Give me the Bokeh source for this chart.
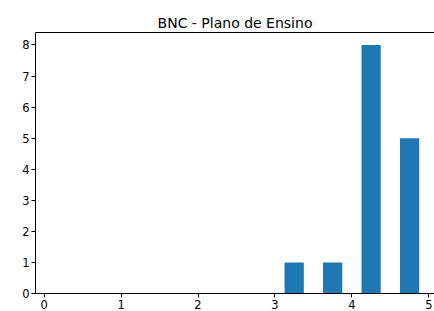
from bokeh.plotting import figure
from bokeh.models import Range1d, FixedTicker, LinearAxis
from bokeh.embed import file_html
from bokeh.resources import INLINE

# Histogram data (bins of 0.5 from 0 to 5)
bin_centers = [0.25, 0.75, 1.25, 1.75, 2.25, 2.75, 3.25, 3.75, 4.25, 4.75]
counts = [0, 0, 0, 0, 0, 0, 1, 1, 8, 5]
bar_width = 0.25
x_ticks = [0, 1, 2, 3, 4, 5]
y_ticks = [0, 1, 2, 3, 4, 5, 6, 7, 8]
title_text = "BNC - Plano de Ensino"

p = figure(width=434, height=311, output_backend="svg", toolbar_location=None,
           x_range=Range1d(-0.1125, 5.074), y_range=Range1d(0, 8.4),
           min_border_left=35, min_border_right=0, min_border_top=32, min_border_bottom=0)

p.vbar(x=bin_centers, top=counts, width=bar_width, bottom=0,
       fill_color="#1f77b4", line_color=None)

p.title.text = title_text
p.title.align = "center"
p.title.text_font = "DejaVu Sans"
p.title.text_font_size = "14px"
p.title.text_font_style = "normal"
p.title.text_color = "black"
p.title.standoff = 4

p.outline_line_color = None
p.xgrid.grid_line_color = None
p.ygrid.grid_line_color = None

xaxis = p.below[0]
yaxis = p.left[0]

for ax in (xaxis, yaxis):
    ax.axis_line_color = "black"
    ax.axis_line_width = 1
    ax.major_tick_line_color = "black"
    ax.major_tick_out = 4
    ax.major_tick_in = 0
    ax.minor_tick_line_color = None
    ax.major_label_text_font = "DejaVu Sans"
    ax.major_label_text_font_size = "11.5px"
    ax.major_label_text_color = "black"
    ax.major_label_standoff = 2

xaxis.ticker = FixedTicker(ticks=x_ticks)
yaxis.ticker = FixedTicker(ticks=y_ticks)

top_axis = LinearAxis(ticker=FixedTicker(ticks=[]), major_label_text_font_size="0px",
                      major_tick_out=0, major_tick_in=0, minor_tick_out=0, minor_tick_in=0,
                      major_tick_line_color=None, minor_tick_line_color=None,
                      major_label_standoff=0, axis_line_color="black", axis_line_width=1)
p.add_layout(top_axis, "above")

open("out.html", "w").write(file_html(p, INLINE))
